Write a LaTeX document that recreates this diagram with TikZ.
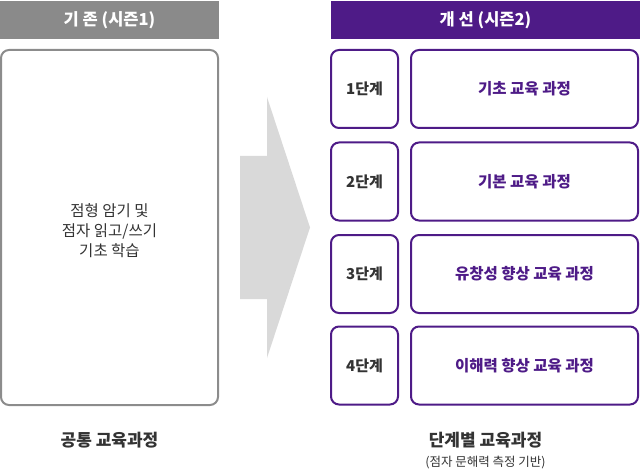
\documentclass[tikz,border=0pt]{standalone}
\usepackage{fontspec}
\setmainfont{Noto Sans CJK KR}
\usetikzlibrary{positioning}
\definecolor{pur}{RGB}{78,27,135}
\definecolor{hgray}{RGB}{138,138,138}
\definecolor{bgray}{RGB}{140,140,140}
\definecolor{arrg}{RGB}{217,217,217}
\definecolor{txt}{RGB}{51,51,51}

\begin{document}
\begin{tikzpicture}[x=1pt,y=-1pt,
  head/.style={rectangle,text=white,font=\fontsize{16.5}{19}\selectfont\bfseries,
               minimum height=38pt,inner sep=0pt},
  oldbox/.style={rectangle,rounded corners=8pt,draw=bgray,line width=2pt,
                 minimum width=217pt,minimum height=355pt,inner sep=0pt},
  stepno/.style={rectangle,rounded corners=8pt,draw=pur,line width=2pt,
                 text=txt,font=\fontsize{15}{18}\selectfont\bfseries,
                 minimum width=67pt,minimum height=78pt,inner sep=0pt},
  course/.style={rectangle,rounded corners=8pt,draw=pur,line width=2pt,
                 text=pur,font=\fontsize{15.5}{18}\selectfont\bfseries,
                 minimum width=227pt,minimum height=78pt,inner sep=0pt},
  caption/.style={text=txt,font=\fontsize{17}{20}\selectfont\bfseries,inner sep=0pt}]

  \useasboundingbox (0,0) rectangle (640,476);

  \node[head,fill=hgray,minimum width=219pt] (Hold) at (109.5,20) {기 존 (시즌1)};
  \node[head,fill=pur,minimum width=309pt]   (Hnew) at (485.5,20) {개 선 (시즌2)};

  \node[oldbox] (Bold) at (109.5,227.5) {};
  \node[text=txt,align=center,font=\fontsize{15.5}{20}\selectfont] (Told) at (109.5,231)
    {점형 암기 및\\점자 읽고/쓰기\\기초 학습};

  \fill[arrg] (240,156) -- (267,156) -- (267,97) -- (310,227.5)
    -- (267,358) -- (267,299) -- (240,299) -- cycle;

  \node[stepno] (S1) at (364.5,89)    {1단계};
  \node[stepno] (S2) at (364.5,181.5) {2단계};
  \node[stepno] (S3) at (364.5,274)   {3단계};
  \node[stepno] (S4) at (364.5,365.5) {4단계};

  \node[course] (C1) at (524.5,89)    {기초 교육 과정};
  \node[course] (C2) at (524.5,181.5) {기본 교육 과정};
  \node[course] (C3) at (524.5,274)   {유창성 향상 교육 과정};
  \node[course] (C4) at (524.5,365.5) {이해력 향상 교육 과정};

  \node[caption] (Lold) at (109.5,440) {공통 교육과정};
  \node[caption] (Lnew) at (485.5,440) {단계별 교육과정};
  \node[text=txt,font=\fontsize{12.5}{14}\selectfont,inner sep=0pt,below=8pt of Lnew]
    (Lsub) {(점자 문해력 측정 기반)};
\end{tikzpicture}
\end{document}
